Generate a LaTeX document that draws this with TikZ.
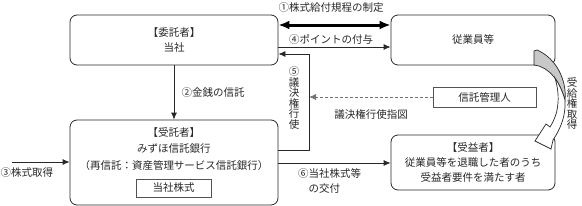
\documentclass[tikz,border=0pt]{standalone}
\usepackage{fontspec}
\setmainfont{Noto Sans CJK JP}
\usetikzlibrary{arrows.meta,positioning,calc}
\definecolor{boxLine}{RGB}{40,40,40}
\definecolor{backGray}{RGB}{200,200,200}
\newcommand{\diagfont}{\fontsize{10.5}{15}\selectfont}
\tikzset{
  party box/.style={draw=boxLine,fill=white,rounded corners=7pt,line width=0.8pt,align=center,font=\diagfont,text=boxLine},
  plain box/.style={draw=boxLine!80,fill=white,line width=0.8pt,align=center,font=\diagfont,text=boxLine},
  flow label/.style={inner sep=0pt,align=center,font=\diagfont,text=boxLine},
  column label/.style={inner sep=0pt,align=center,font=\fontsize{10.5}{10.5}\selectfont,text=boxLine},
  flow arrow/.style={-{Latex[length=7pt,width=6pt]},line width=0.8pt,draw=boxLine},
  bold arrow/.style={{Latex[length=11pt,width=9pt]}-{Latex[length=11pt,width=9pt]},line width=3pt,draw=black},
  hint arrow/.style={-{Latex[length=7pt,width=6pt]},line width=0.8pt,draw=black!55,dash pattern=on 3pt off 2pt}
}
\begin{document}
\begin{tikzpicture}[x=1pt,y=-1pt]
  \useasboundingbox (0,0) rectangle (582,206);
  \node[party box,minimum width=208,minimum height=50] (trustor) at (174,40) {【委託者】\\当社};
  \node[party box,minimum width=164,minimum height=50] (staff) at (473,40) {従業員等};
  \node[party box,minimum width=208,minimum height=85] (trustee) at (174,162.5) {};
  \node[flow label,font=\fontsize{10.5}{16.5}\selectfont] (trusteetext) at (174,149) {【受託者】\\みずほ信託銀行\\（再信託：資産管理サービス信託銀行）};
  \node[plain box,minimum width=75,minimum height=18] (stock) at (173.5,188) {当社株式};
  \node[party box,minimum width=164,minimum height=55] (beneficiary) at (473,162.5) {【受益者】\\従業員等を退職した者のうち\\受益者要件を満たす者};
  \node[plain box,minimum width=103,minimum height=20] (manager) at (484.5,97) {信託管理人};
  \coordinate (voteturn) at (309,54);
  \coordinate (market) at (12,162);
  \draw[bold arrow] (trustor.east |- 0,25) -- (staff.west |- 0,25);
  \draw[flow arrow] (trustor.east |- 0,47) -- (staff.west |- 0,47);
  \draw[flow arrow] (trustee.east |- 0,150) -| (voteturn) -- (trustor.east |- voteturn);
  \draw[hint arrow] (manager.west) -- (manager.west -| voteturn);
  \draw[flow arrow] (trustor.south) -- (trustee.north);
  \draw[flow arrow] (market) -- (trustee.west |- market);
  \draw[flow arrow] (trustee.east |- 0,163) -- (beneficiary.west |- 0,163);
  \node[flow label] (ruleslabel) at (331,8) {①株式給付規程の制定};
  \node[flow label] (pointlabel) at (331,39) {④ポイントの付与};
  \node[flow label] (moneylabel) at (213,93) {②金銭の信託};
  \node[flow label] (instructlabel) at (371,115) {議決権行使指図};
  \node[flow label] (buylabel) at (27,173) {③株式取得};
  \node[flow label,align=left,anchor=west] (deliverlabel) at (298,180.5) {⑥当社株式等\\\hspace*{1em}の交付};
  \node[column label] (votelabel) at (294,98) {⑤\\議\\決\\権\\行\\使};
  \node[column label] (receivelabel) at (572,103.5) {受\\給\\権\\取\\得};
  \filldraw[fill=backGray,draw=boxLine,line width=0.7pt] (534,51) -- (537,50) .. controls (556,58) and (567,80) .. (565,100) .. controls (560,82) and (550,67) .. (534,65) -- cycle;
  \filldraw[fill=white,draw=boxLine,line width=0.7pt] (555,78) .. controls (561,98) and (558,115) .. (550,127) -- (546,124) -- (535,141) -- (551,149) -- (553,140) .. controls (561,128) and (566,115) .. (565,100) .. controls (562,90) and (559,84) .. cycle;
\end{tikzpicture}
\end{document}
